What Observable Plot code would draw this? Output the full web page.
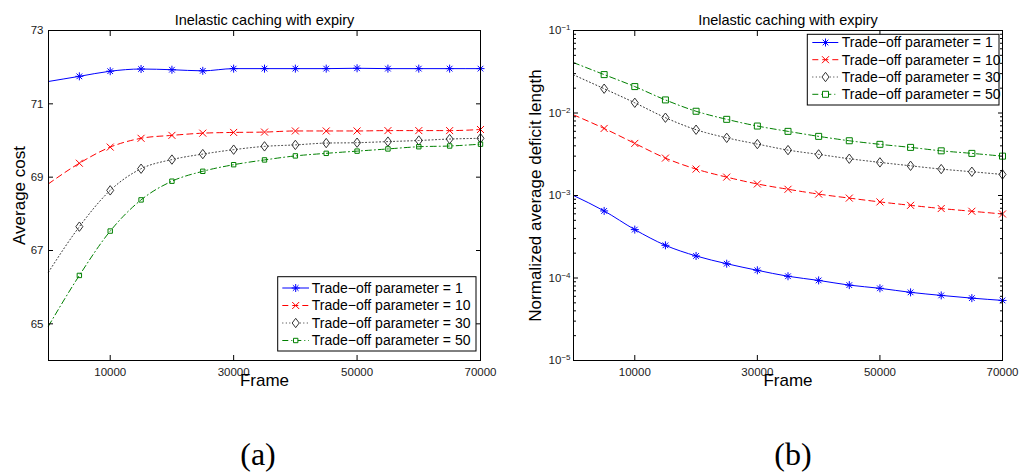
<!DOCTYPE html>
<html><head><meta charset="utf-8">
<script src="https://cdn.jsdelivr.net/npm/d3@7"></script>
<script src="https://cdn.jsdelivr.net/npm/@observablehq/plot@0.6"></script>
<style>
body{margin:0;background:#fff;}
#wrap{position:relative;width:1028px;height:476px;overflow:hidden;background:#fff;}
#left,#right,#subs{position:absolute;top:0;}
#left{left:0;} #right{left:514px;} #subs{left:0;}
</style>
</head><body>
<div id="wrap"><div id="left"></div><div id="right"></div><svg id="subs" width="1028" height="476"></svg></div>
<script>
// ---- data ----
const frames = [0,5000,10000,15000,20000,25000,30000,35000,40000,45000,50000,55000,60000,65000,70000];
const params = [1,10,30,50];
const costP1  = [71.61,71.75,71.89,71.95,71.93,71.90,71.96,71.96,71.96,71.96,71.97,71.96,71.96,71.96,71.96];
const costP10 = [68.82,69.38,69.82,70.06,70.14,70.20,70.22,70.23,70.26,70.26,70.26,70.27,70.27,70.27,70.30];
const costP30 = [66.41,67.65,68.64,69.23,69.48,69.63,69.75,69.84,69.88,69.93,69.94,69.97,70.00,70.04,70.06];
const costP50 = [64.94,66.32,67.53,68.38,68.89,69.16,69.34,69.47,69.58,69.65,69.71,69.77,69.83,69.85,69.90];
const deficitP1  = [1.0e-3,6.5e-4,3.86e-4,2.49e-4,1.85e-4,1.49e-4,1.24e-4,1.05e-4,9.35e-5,8.2e-5,7.5e-5,6.7e-5,6.15e-5,5.7e-5,5.35e-5];
const deficitP10 = [9.5e-3,6.5e-3,4.28e-3,2.84e-3,2.09e-3,1.67e-3,1.38e-3,1.19e-3,1.04e-3,9.3e-4,8.36e-4,7.6e-4,6.95e-4,6.44e-4,5.97e-4];
const deficitP30 = [2.9e-2,1.97e-2,1.33e-2,8.77e-3,6.27e-3,5.0e-3,4.2e-3,3.55e-3,3.15e-3,2.79e-3,2.52e-3,2.29e-3,2.09e-3,1.94e-3,1.8e-3];
const deficitP50 = [4.08e-2,2.92e-2,2.09e-2,1.44e-2,1.05e-2,8.38e-3,6.95e-3,5.99e-3,5.21e-3,4.61e-3,4.17e-3,3.83e-3,3.48e-3,3.24e-3,3.0e-3];
const xTicks = [10000,30000,50000,70000];
const costTicks = [65,67,69,71,73];
const deficitTicks = [1e-5,1e-4,1e-3,1e-2,1e-1];
const titleText = "Inelastic caching with expiry";

// ---- symbols (MATLAB-like) ----
const R = s => Math.sqrt(s/Math.PI);
const symStar = {draw(c,s){const r=R(s),d=r*Math.SQRT1_2;c.moveTo(-r,0);c.lineTo(r,0);c.moveTo(0,-r);c.lineTo(0,r);c.moveTo(-d,-d);c.lineTo(d,d);c.moveTo(-d,d);c.lineTo(d,-d);}};
const symTimes = {draw(c,s){const r=R(s);c.moveTo(-r,-r);c.lineTo(r,r);c.moveTo(-r,r);c.lineTo(r,-r);}};
const symDiamond = {draw(c,s){const r=R(s),w=r*0.75;c.moveTo(0,-r);c.lineTo(w,0);c.lineTo(0,r);c.lineTo(-w,0);c.closePath();}};
const symSquare = {draw(c,s){const r=R(s);c.rect(-r,-r,2*r,2*r);}};

const styles = [
  {color:"#0000ff", dash:null, sym:symStar, r:4},
  {color:"#ff0000", dash:"6,4", sym:symTimes, r:3.5},
  {color:"#333333", dash:"1,2.5", sym:symDiamond, r:4.7},
  {color:"#008000", dash:"6,3,1,3", sym:symSquare, r:2.3}
];

function rowsOf(seriesList){
  const rows=[];
  seriesList.forEach((vals,k)=>vals.forEach((v,i)=>rows.push({frame:frames[i],value:v,param:params[k],marker:i>0})));
  return rows;
}
const costRows = rowsOf([costP1,costP10,costP30,costP50]);
const defRows = rowsOf([deficitP1,deficitP10,deficitP30,deficitP50]);

function seriesMarks(rows, sqR){
  const m=[];
  params.forEach((p,k)=>{
    const st=styles[k];
    const data=rows.filter(d=>d.param===p);
    m.push(Plot.line(data,{x:"frame",y:"value",stroke:st.color,strokeWidth:1,strokeDasharray:st.dash||undefined,curve:"monotone-x"}));
    m.push(Plot.dot(data.filter(d=>d.marker),{x:"frame",y:"value",symbol:st.sym,r:(k===3?sqR:st.r),stroke:st.color,fill:"none",strokeWidth:1}));
  });
  return m;
}

function frameMarks(ylabel, ylabelDx){
  return [
    Plot.frame({stroke:"black",strokeWidth:1}),
    Plot.text([titleText],{text:d=>d,frameAnchor:"top",dy:-16,fontSize:14.5,fill:"black",textAnchor:"middle"}),
    Plot.text(["Frame"],{text:d=>d,frameAnchor:"bottom",dy:25.5,fontSize:17,fill:"black",textAnchor:"middle"}),
    Plot.text([ylabel],{text:d=>d,frameAnchor:"left",dx:ylabelDx,rotate:-90,fontSize:17,fill:"black",textAnchor:"middle"})
  ];
}

function addLegend(svg, box, rowY, lineX, markX, textX, sqR){
  const g=d3.select(svg).append("g").attr("text-anchor","start");
  g.append("rect").attr("x",box[0]).attr("y",box[1]).attr("width",box[2]).attr("height",box[3])
    .attr("fill","white").attr("stroke","black").attr("stroke-width",1);
  params.forEach((p,k)=>{
    const st=styles[k], y=rowY[k];
    const ln=g.append("line").attr("x1",lineX[0]).attr("x2",lineX[1]).attr("y1",y).attr("y2",y)
      .attr("stroke",st.color).attr("stroke-width",1);
    if(st.dash) ln.attr("stroke-dasharray",st.dash);
    const r=(k===3?sqR:st.r);
    g.append("path").attr("d",d3.symbol(st.sym,r*r*Math.PI)()).attr("transform",`translate(${markX},${y})`)
      .attr("fill","white").attr("stroke",st.color).attr("stroke-width",1);
    g.append("text").attr("x",textX).attr("y",y).attr("dy","0.35em").attr("font-size",14)
      .attr("text-anchor","start").attr("fill","black").text(`Trade\u2212off parameter = ${p}`);
  });
}

const baseStyle={fontFamily:"'Liberation Sans', Arial, sans-serif",fontSize:"11.5px",color:"black",background:"white",overflow:"visible"};

// ---- left chart ----
const left = Plot.plot({
  width:514,height:400,marginLeft:48,marginRight:34,marginTop:30,marginBottom:40,
  style:baseStyle,
  x:{domain:[0,70000],label:null},
  y:{domain:[64,73],label:null},
  marks:[
    ...seriesMarks(costRows,2.2),
    Plot.axisX({ticks:xTicks,tickSize:-5,tickPadding:12,tickFormat:d3.format("d"),label:null,fill:"#1a1a1a"}),
    Plot.axisX({anchor:"top",ticks:xTicks,tickSize:-5,tickFormat:()=>"",label:null}),
    Plot.axisY({ticks:costTicks,tickSize:-5,tickPadding:10,tickFormat:d3.format("d"),label:null,fill:"#1a1a1a"}),
    Plot.axisY({anchor:"right",ticks:costTicks,tickSize:-5,tickFormat:()=>"",label:null}),
    ...frameMarks("Average cost",-29)
  ]
});
addLegend(left,[277.7,276.7,198.3,74.3],[288,305.5,323,340.5],[282.3,309],295.7,311.7,2.2);
document.getElementById("left").appendChild(left);

// ---- right chart ----
const minorTicks=[];
deficitTicks.slice(0,-1).forEach(t=>{for(let m=2;m<=9;m++) minorTicks.push(t*m);});
const right = Plot.plot({
  width:514,height:400,marginLeft:59,marginRight:26,marginTop:30,marginBottom:40,
  style:baseStyle,
  x:{domain:[0,70000],label:null},
  y:{type:"log",domain:[1e-5,1e-1],label:null},
  marks:[
    ...seriesMarks(defRows,3),
    Plot.axisX({ticks:xTicks,tickSize:-5,tickPadding:12,tickFormat:d3.format("d"),label:null,fill:"#1a1a1a"}),
    Plot.axisX({anchor:"top",ticks:xTicks,tickSize:-5,tickFormat:()=>"",label:null}),
    Plot.axisY({ticks:deficitTicks,tickSize:-5,tickPadding:8,tickFormat:d=>"10^"+Math.round(Math.log10(d)),label:null,fill:"#1a1a1a"}),
    Plot.axisY({ticks:minorTicks,tickSize:-3,tickFormat:()=>"",label:null}),
    Plot.axisY({anchor:"right",ticks:deficitTicks,tickSize:-5,tickFormat:()=>"",label:null}),
    Plot.axisY({anchor:"right",ticks:minorTicks,tickSize:-3,tickFormat:()=>"",label:null}),
    ...frameMarks("Normalized average deficit length",-38)
  ]
});
d3.select(right).selectAll("text").each(function(){
  const t=d3.select(this), s=t.text();
  const m=/^10\^(-?\d+)$/.exec(s);
  if(m){
    t.text("");
    t.append("tspan").text("10");
    t.append("tspan").attr("dy","-0.5em").attr("font-size","8px").text(m[1].replace("-","\u2212"));
  }
});
addLegend(right,[293.3,34.3,191.7,70.7],[42.5,59.7,77,94.3],[298.3,324.3],311.5,327.7,3);
document.getElementById("right").appendChild(right);

// ---- sub-captions ----
const subs=d3.select("#subs");
[["(a)",258],["(b)",793]].forEach(([t,x])=>{
  subs.append("text").attr("x",x).attr("y",465).attr("text-anchor","middle")
    .attr("font-family","'Liberation Serif', 'DejaVu Serif', serif").attr("font-size",32).attr("fill","black").text(t);
});
</script>
</body></html>
